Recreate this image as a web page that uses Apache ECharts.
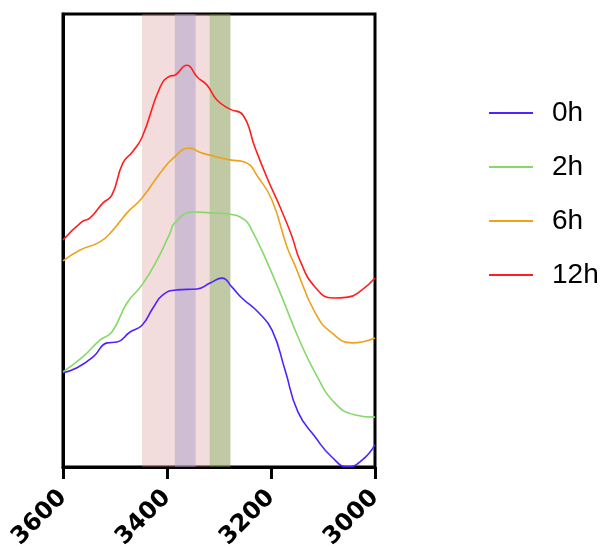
<!DOCTYPE html>
<html>
<head>
<meta charset="utf-8">
<script src="https://cdn.jsdelivr.net/npm/echarts@6/dist/echarts.min.js"></script>
<style>
  html, body { margin: 0; padding: 0; background: #fff; }
  #showChart { width: 607px; height: 548px; }
</style>
</head>
<body>
<div id="showChart"></div>
<script>
var seriesNames = ['0h', '2h', '6h', '12h'];
var seriesColors = ['#4f22ff', '#86d968', '#eea21c', '#ff1f1f'];
var xTicks = [3600, 3400, 3200, 3000];

// [wavenumber, intensity]
var data0h = [
    [3600, 20.8], [3573, 21.9], [3542, 24.3], [3515, 27.4], [3496, 27.6],
    [3471, 29.8], [3448, 31.3], [3427, 35.1], [3408, 38.0], [3381, 39.1],
    [3342, 39.3], [3317, 40.6], [3294, 41.7], [3275, 39.7], [3256, 37.3],
    [3225, 34.2], [3198, 30.2], [3173, 21.4], [3148, 12.1], [3115, 6.6],
    [3083, 2.2], [3052, 0.0], [3025, 1.5], [3000, 4.9]
];
var data2h = [
    [3600, 21.0], [3562, 24.3], [3529, 28.0], [3506, 29.8], [3477, 36.2],
    [3448, 40.2], [3419, 45.7], [3394, 51.7], [3385, 53.9], [3350, 56.3],
    [3317, 56.1], [3279, 55.8], [3250, 54.5], [3237, 52.3], [3212, 46.4],
    [3179, 37.5], [3148, 28.7], [3115, 20.8], [3077, 14.1], [3038, 11.5],
    [3000, 11.0]
];
var data6h = [
    [3600, 45.5], [3567, 47.9], [3529, 49.7], [3504, 52.3], [3477, 56.1],
    [3448, 59.4], [3413, 64.9], [3388, 68.2], [3356, 70.4], [3337, 69.5],
    [3313, 68.7], [3279, 67.8], [3250, 67.3], [3225, 64.0], [3198, 58.9],
    [3169, 48.5], [3154, 44.5], [3115, 34.0], [3083, 29.6], [3044, 27.4],
    [3000, 28.5]
];
var data12h = [
    [3600, 50.1], [3564, 54.1], [3548, 55.0], [3523, 58.3], [3506, 60.0],
    [3485, 67.1], [3467, 69.5], [3448, 72.8], [3413, 83.9], [3394, 86.3],
    [3385, 86.5], [3362, 88.7], [3342, 86.1], [3323, 84.3], [3304, 81.0],
    [3279, 79.0], [3254, 77.7], [3231, 70.6], [3206, 63.4], [3183, 57.5],
    [3160, 51.0], [3144, 45.5], [3115, 39.7], [3081, 37.3], [3052, 37.5],
    [3025, 39.1], [3000, 41.7]
];
var allData = [data0h, data2h, data6h, data12h];

// shaded bands [from, to]
var bandPink = [3448, 3318];
var bandPurple = [3385, 3345];
var bandGreen = [3318, 3278];

function showChart() {
    var dom = document.getElementById('showChart');
    var myChart = echarts.init(dom);

    var series = seriesNames.map(function (name, i) {
        return {
            name: name,
            type: 'line',
            data: allData[i],
            smooth: 0.5,
            showSymbol: false,
            z: 2,
            lineStyle: { color: seriesColors[i], width: 1.6 },
            itemStyle: { color: seriesColors[i] }
        };
    });

    series.push({
        name: 'bands',
        type: 'line',
        data: [],
        z: 5,
        silent: true,
        markArea: {
            silent: true,
            data: [
                [{ xAxis: bandPink[0], itemStyle: { color: 'rgba(212,138,138,0.3)' } }, { xAxis: bandPink[1] }],
                [{ xAxis: bandPurple[0], itemStyle: { color: 'rgba(162,150,200,0.45)' } }, { xAxis: bandPurple[1] }],
                [{ xAxis: bandGreen[0], itemStyle: { color: 'rgba(127,149,73,0.5)' } }, { xAxis: bandGreen[1] }]
            ]
        }
    });

    var option = {
        animation: false,
        backgroundColor: '#fff',
        grid: {
            left: 63, right: 232, top: 14, bottom: 81,
            outerBoundsMode: 'none',
            containLabel: false,
            show: true,
            borderColor: '#000',
            borderWidth: 3
        },
        legend: {
            orient: 'vertical',
            left: 484,
            top: 93,
            data: seriesNames,
            icon: 'rect',
            itemWidth: 44,
            itemHeight: 2,
            itemGap: 24,
            textStyle: {
                fontFamily: 'Liberation Sans',
                fontSize: 28,
                lineHeight: 30,
                color: '#000',
                padding: [0, 0, 0, 14]
            }
        },
        xAxis: {
            type: 'value',
            min: 3000,
            max: 3600,
            interval: 200,
            inverse: true,
            axisLine: { show: true, lineStyle: { color: '#000', width: 3 } },
            axisTick: { show: true, length: 12, lineStyle: { color: '#000', width: 3 } },
            splitLine: { show: false },
            axisLabel: {
                rotate: 45,
                margin: 27,
                fontFamily: 'DejaVu Sans',
                fontWeight: 'bold',
                fontSize: 24,
                color: '#000',
                customValues: xTicks,
                formatter: function (v) { return String(v); }
            }
        },
        yAxis: {
            type: 'value',
            min: 0,
            max: 100,
            axisLine: { show: true, lineStyle: { color: '#000', width: 3 } },
            axisTick: { show: false },
            axisLabel: { show: false },
            splitLine: { show: false }
        },
        series: series
    };

    if (option && typeof option === 'object') {
        myChart.setOption(option, true);
    }

    window.addEventListener('resize', function () {
        myChart.resize();
    });
}

showChart();
</script>
</body>
</html>
